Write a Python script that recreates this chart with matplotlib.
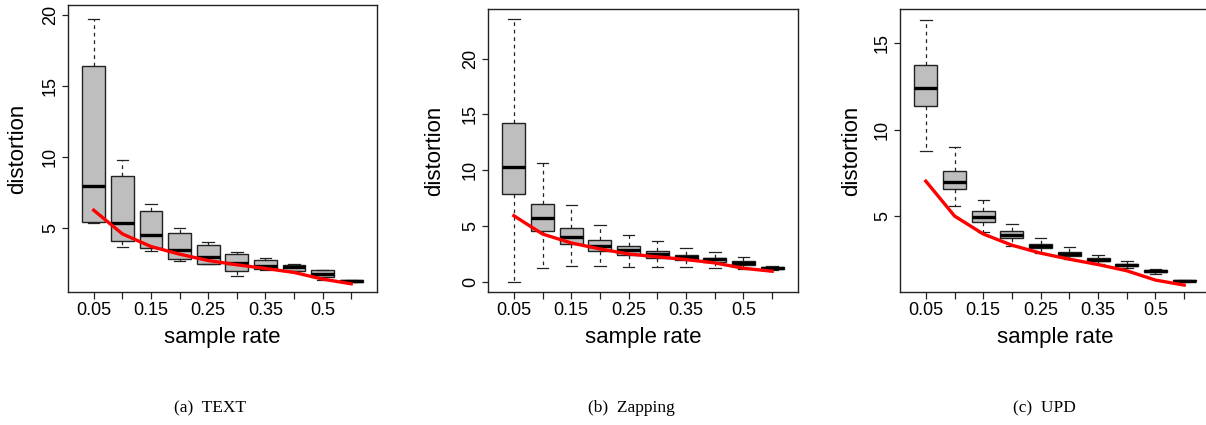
import matplotlib
matplotlib.use("Agg")
import matplotlib.pyplot as plt
import numpy as np

# ---------------- data ----------------
rates = ["0.05", "0.1", "0.15", "0.2", "0.25", "0.3", "0.35", "0.4", "0.5", "0.6"]
shown_labels = ["0.05", "", "0.15", "", "0.25", "", "0.35", "", "0.5", ""]

# (a) TEXT
text_whislo = [5.30, 3.66, 3.36, 2.65, 2.42, 1.59, 2.00, 1.90, 1.31, 1.15]
text_q1     = [5.38, 4.04, 3.57, 2.77, 2.44, 1.95, 2.06, 1.95, 1.50, 1.17]
text_med    = [7.96, 5.30, 4.48, 3.40, 2.93, 2.51, 2.30, 2.18, 1.73, 1.24]
text_q3     = [16.40, 8.60, 6.15, 4.60, 3.80, 3.15, 2.72, 2.39, 1.97, 1.31]
text_whishi = [19.70, 9.77, 6.67, 4.98, 3.97, 3.30, 2.84, 2.46, 1.99, 1.33]
text_mean   = [6.22, 4.55, 3.66, 3.12, 2.67, 2.37, 2.11, 1.83, 1.36, 1.03]

# (b) Zapping
zap_whislo = [0.00, 1.19, 1.37, 1.43, 1.28, 1.31, 1.28, 1.19, 1.13, 1.07]
zap_q1     = [7.87, 4.50, 3.37, 2.77, 2.38, 2.12, 1.94, 1.73, 1.49, 1.16]
zap_med    = [10.31, 5.69, 3.99, 3.22, 2.80, 2.47, 2.18, 2.03, 1.67, 1.25]
zap_q3     = [14.19, 6.94, 4.80, 3.76, 3.16, 2.74, 2.35, 2.15, 1.82, 1.34]
zap_whishi = [23.50, 10.61, 6.89, 5.04, 4.20, 3.60, 3.01, 2.62, 2.18, 1.40]
zap_mean   = [5.90, 4.26, 3.46, 2.92, 2.47, 2.21, 1.97, 1.67, 1.19, 0.92]

# (c) UPD
upd_whislo = [8.79, 5.60, 4.10, 3.27, 2.85, 2.50, 2.25, 1.98, 1.67, 1.19]
upd_q1     = [11.38, 6.58, 4.65, 3.73, 3.15, 2.71, 2.38, 2.10, 1.73, 1.21]
upd_med    = [12.44, 6.96, 4.96, 3.92, 3.27, 2.81, 2.48, 2.17, 1.81, 1.25]
upd_q3     = [13.73, 7.58, 5.29, 4.15, 3.40, 2.92, 2.58, 2.25, 1.87, 1.29]
upd_whishi = [16.38, 9.00, 5.92, 4.52, 3.75, 3.21, 2.77, 2.38, 1.92, 1.31]
upd_mean   = [7.02, 5.00, 3.96, 3.31, 2.85, 2.50, 2.19, 1.83, 1.29, 1.00]

captions = ["(a)  TEXT", "(b)  Zapping", "(c)  UPD"]
xlabel = "sample rate"
ylabel = "distortion"

# ---------------- figure ----------------
W, H = 1206, 425
fig = plt.figure(figsize=(W / 100, H / 100), dpi=100)
plt.rcParams["font.family"] = ["Liberation Sans", "DejaVu Sans"]

panels = [
    dict(lo=text_whislo, q1=text_q1, med=text_med, q3=text_q3, hi=text_whishi,
         mean=text_mean, rect=(68, 5, 377, 292), ylim=(0.45, 20.7),
         yticks=[5, 10, 15, 20], cap_x=210, ylab_off=50),
    dict(lo=zap_whislo, q1=zap_q1, med=zap_med, q3=zap_q3, hi=zap_whishi,
         mean=zap_mean, rect=(488, 9, 798, 292), ylim=(-0.94, 24.44),
         yticks=[0, 5, 10, 15, 20], cap_x=631, ylab_off=53),
    dict(lo=upd_whislo, q1=upd_q1, med=upd_med, q3=upd_q3, hi=upd_whishi,
         mean=upd_mean, rect=(900, 9, 1210, 292), ylim=(0.6, 16.99),
         yticks=[5, 10, 15], cap_x=1044, ylab_off=48),
]

edge = "#222222"
for p, cap in zip(panels, captions):
    l, t, r, b = p["rect"]
    ax = fig.add_axes([l / W, 1 - b / H, (r - l) / W, (b - t) / H])
    stats = []
    for i in range(len(rates)):
        stats.append(dict(whislo=p["lo"][i], q1=p["q1"][i], med=p["med"][i],
                          q3=p["q3"][i], whishi=p["hi"][i], fliers=[]))
    pos = np.arange(1, len(rates) + 1)
    ax.bxp(stats, positions=pos, widths=0.8, patch_artist=True, showfliers=False,
           boxprops=dict(facecolor="#BEBEBE", edgecolor=edge, linewidth=1.0),
           medianprops=dict(color="black", linewidth=2.4, solid_capstyle="butt"),
           whiskerprops=dict(color=edge, linewidth=0.9, linestyle=(0, (3, 3))),
           capprops=dict(color=edge, linewidth=0.9))
    ax.plot(pos, p["mean"], color="#FF0000", linewidth=2.4, zorder=5)

    ax.set_xlim(0.1, 10.9)
    ax.set_ylim(*p["ylim"])
    ax.set_xticks(pos)
    ax.set_xticklabels(shown_labels, fontsize=13)
    ax.set_yticks(p["yticks"])
    ax.set_yticklabels([str(v) for v in p["yticks"]], fontsize=13,
                       rotation=90, va="center")
    ax.tick_params(axis="x", length=5, width=0.9, pad=2.5, color=edge)
    ax.tick_params(axis="y", length=4.5, width=0.9, pad=2, color=edge)
    for s in ax.spines.values():
        s.set_color(edge)
        s.set_linewidth(1.0)

    ax.set_xlabel(xlabel, fontsize=16)
    ax.xaxis.label.set_va("center")
    ax.xaxis.set_label_coords(0.5, -46 / (b - t))
    ax.set_ylabel(ylabel, fontsize=16)
    ax.yaxis.label.set_va("center")
    ax.yaxis.label.set_ha("center")
    ax.yaxis.set_label_coords(-p["ylab_off"] / (r - l), 0.5)

    fig.text(p["cap_x"] / W, 1 - 408 / H, cap, ha="center", va="center",
             fontsize=12.5, family=["Liberation Serif", "DejaVu Serif"])

fig.savefig("out.png", dpi=100)
